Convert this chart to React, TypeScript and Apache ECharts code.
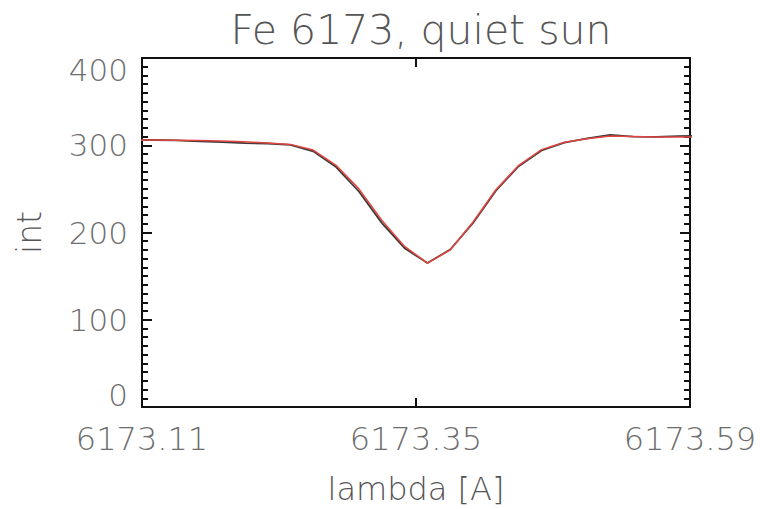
import React, { useEffect, useRef } from "react";
import * as echarts from "echarts";

// wavelength grid [A]
const lambda = [
  6173.10, 6173.12, 6173.14, 6173.16, 6173.18, 6173.20, 6173.22, 6173.24, 6173.26,
  6173.28, 6173.30, 6173.32, 6173.34, 6173.36, 6173.38, 6173.40, 6173.42, 6173.44,
  6173.46, 6173.48, 6173.50, 6173.52, 6173.54, 6173.56, 6173.58, 6173.60,
];

// observed profile (dark line)
const observed = [
  306, 306, 305.5, 304.5, 303.5, 302.5, 302, 300.5, 293,
  275, 247, 211, 182, 165, 180.5, 211, 248, 276,
  294, 303, 308, 312, 310, 309.5, 310.5, 311,
];

// fitted profile (red line)
const fitted = [
  306, 306, 305.8, 305.5, 305, 304, 302.5, 301, 294.5,
  277, 250, 214, 184, 165, 180, 212, 249, 277,
  295, 303.5, 307.5, 310.5, 310, 309.5, 309.4, 309.4,
];

const xLabelValues = [6173.11, 6173.35, 6173.59];
const xTickValues = [6173.35];
const yTicks = [0, 100, 200, 300, 400];

const FONT = "DejaVu Sans";
const WEIGHT = 200;
const TEXT = "#6e6e6e";
const AXIS = "#111111";

export default function App() {
  const ref = useRef<HTMLDivElement>(null);
  useEffect(() => {
    if (!ref.current) return;
    const chart = echarts.init(ref.current, undefined, { renderer: "svg" });
    const xMin = xLabelValues[0];
    const xMax = xLabelValues[xLabelValues.length - 1];
    const yMin = yTicks[0];
    const yMax = yTicks[yTicks.length - 1];
    const baseX = {
      type: "value",
      min: xMin,
      max: xMax,
      splitLine: { show: false },
      axisLine: { show: true, onZero: false, lineStyle: { color: AXIS, width: 2 } },
      axisTick: {
        show: true,
        inside: true,
        length: 9,
        customValues: xTickValues,
        lineStyle: { color: AXIS, width: 2 },
      },
    };
    const baseY = {
      type: "value",
      min: yMin,
      max: yMax,
      interval: 100,
      splitLine: { show: false },
      axisLine: { show: true, onZero: false, lineStyle: { color: AXIS, width: 2 } },
      axisTick: { show: true, inside: true, length: 10, lineStyle: { color: AXIS, width: 2 } },
      minorTick: { show: true, splitNumber: 10, length: 6, lineStyle: { color: AXIS, width: 2 } },
    };
    chart.setOption({
      animation: false,
      backgroundColor: "#ffffff",
      title: {
        text: "Fe 6173, quiet sun",
        left: 416,
        textAlign: "center",
        top: 4,
        textStyle: { fontFamily: FONT, fontSize: 41, fontWeight: WEIGHT, color: "#555" },
      },
      grid: { left: 142, right: 70, top: 58, bottom: 102, outerBoundsMode: "none" },
      xAxis: [
        {
          ...baseX,
          position: "bottom",
          name: "lambda [A]",
          nameLocation: "middle",
          nameGap: 66,
          nameTextStyle: { fontFamily: FONT, fontSize: 32, fontWeight: WEIGHT, color: "#555" },
          axisLabel: {
            show: true,
            customValues: xLabelValues,
            formatter: (v: number) => v.toFixed(2),
            fontFamily: FONT,
            fontWeight: WEIGHT,
            fontSize: 32,
            color: TEXT,
            margin: 16,
          },
        },
        { ...baseX, position: "top", axisLabel: { show: false } },
      ],
      yAxis: [
        {
          ...baseY,
          position: "left",
          name: "int",
          nameLocation: "middle",
          nameGap: 96,
          nameRotate: 90,
          nameTextStyle: { fontFamily: FONT, fontSize: 33, fontWeight: WEIGHT, color: "#555" },
          axisLabel: {
            show: true,
            fontFamily: FONT,
            fontWeight: WEIGHT,
            fontSize: 31,
            lineHeight: 24,
            color: TEXT,
            margin: 14,
            verticalAlignMaxLabel: "top",
            verticalAlignMinLabel: "bottom",
          },
        },
        { ...baseY, position: "right", axisLabel: { show: false } },
      ],
      series: [
        {
          type: "line",
          xAxisIndex: 0,
          yAxisIndex: 0,
          data: lambda.map((l, i) => [l, observed[i]]),
          symbol: "none",
          clip: true,
          lineStyle: { color: "#3a3a3a", width: 1.8 },
          z: 2,
        },
        {
          type: "line",
          xAxisIndex: 0,
          yAxisIndex: 0,
          data: lambda.map((l, i) => [l, fitted[i]]),
          symbol: "none",
          clip: true,
          lineStyle: { color: "#e2453f", width: 1.5 },
          z: 3,
        },
      ],
    });
    return () => chart.dispose();
  }, []);
  return (
    <div
      ref={ref}
      style={{ position: "fixed", left: 0, top: 0, width: 760, height: 509 }}
    />
  );
}
